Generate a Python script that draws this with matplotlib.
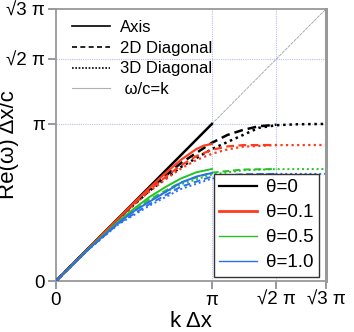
import numpy as np
import matplotlib
matplotlib.use("Agg")
import matplotlib.pyplot as plt
from matplotlib.lines import Line2D

plt.rcParams['font.family'] = ['Liberation Sans', 'DejaVu Sans']

# all values in units of pi (k dx / pi, Re(w) dx / (c pi))
thetas = ['θ=0', 'θ=0.1', 'θ=0.5', 'θ=1.0']
colors = ['black', '#ff3b1e', '#22c422', '#2a6ff0']
widths = [1.8, 1.6, 1.4, 1.4]

# along axis
axis_k = [
    [0, 1.0],
    [0, 0.3, 0.5, 0.6, 0.7, 0.8, 0.9, 0.95, 1.0],
    [0, 0.2, 0.4, 0.5, 0.6, 0.7, 0.8, 0.9, 1.0],
    [0, 0.2, 0.4, 0.5, 0.6, 0.7, 0.8, 0.9, 1.0],
]
axis_w = [
    [0, 1.0],
    [0, 0.3, 0.497, 0.593, 0.685, 0.77, 0.84, 0.862, 0.873],
    [0, 0.198, 0.38, 0.46, 0.535, 0.597, 0.652, 0.692, 0.713],
    [0, 0.195, 0.37, 0.445, 0.505, 0.565, 0.625, 0.665, 0.688],
]

# 2D diagonal
diag2_k = [
    [0, 0.2, 0.4, 0.6, 0.8, 1.0, 1.1, 1.2, 1.3, 1.414],
    [0, 0.3, 0.5, 0.6, 0.7, 0.8, 0.9, 1.0, 1.1, 1.2, 1.414],
    [0, 0.2, 0.4, 0.6, 0.8, 1.0, 1.2, 1.414],
    [0, 0.2, 0.4, 0.6, 0.8, 1.0, 1.2, 1.414],
]
diag2_w = [
    [0, 0.2, 0.397, 0.585, 0.75, 0.88, 0.93, 0.962, 0.985, 0.995],
    [0, 0.298, 0.49, 0.58, 0.66, 0.735, 0.795, 0.835, 0.857, 0.865, 0.866],
    [0, 0.197, 0.375, 0.52, 0.628, 0.69, 0.71, 0.713],
    [0, 0.194, 0.365, 0.49, 0.6, 0.665, 0.68, 0.682],
]

# 3D diagonal
diag3_k = [
    [0, 0.2, 0.4, 0.6, 0.8, 1.0, 1.2, 1.3, 1.414, 1.55, 1.732],
    [0, 0.3, 0.5, 0.6, 0.7, 0.8, 0.9, 1.0, 1.1, 1.2, 1.4, 1.732],
    [0, 0.2, 0.4, 0.6, 0.8, 1.0, 1.2, 1.4, 1.732],
    [0, 0.2, 0.4, 0.6, 0.8, 1.0, 1.2, 1.4, 1.732],
]
diag3_w = [
    [0, 0.2, 0.395, 0.575, 0.725, 0.84, 0.93, 0.975, 0.992, 0.998, 1.0],
    [0, 0.297, 0.485, 0.57, 0.645, 0.715, 0.77, 0.81, 0.838, 0.855, 0.865, 0.866],
    [0, 0.196, 0.372, 0.512, 0.615, 0.678, 0.705, 0.712, 0.713],
    [0, 0.193, 0.36, 0.48, 0.585, 0.652, 0.676, 0.682, 0.682],
]

light_k = [0, 1.732]

tick_vals = [0, 1.0, np.sqrt(2), np.sqrt(3)]
tick_labels = ['0', 'π', '√2 π', '√3 π']

fig = plt.figure(figsize=(3.54, 3.32), dpi=100)
ax = fig.add_axes([0.158, 0.1536, 0.763, 0.8194])

pi = np.pi
ax.plot(np.array(light_k) * pi, np.array(light_k) * pi, color='#a0a0a0',
        lw=0.6, ls=(0, (4, 1)), zorder=1)

for i in range(4):
    ax.plot(np.array(diag3_k[i]) * pi, np.array(diag3_w[i]) * pi, color=colors[i],
            lw=widths[i], ls=(0, (1, 1.5)), zorder=2)
    ax.plot(np.array(diag2_k[i]) * pi, np.array(diag2_w[i]) * pi, color=colors[i],
            lw=widths[i], ls=(0, (3.5, 2)), zorder=3)
    ax.plot(np.array(axis_k[i]) * pi, np.array(axis_w[i]) * pi, color=colors[i],
            lw=widths[i], zorder=4)

ax.set_xlim(0, np.sqrt(3) * pi)
ax.set_ylim(0, np.sqrt(3) * pi)
ax.set_xticks(np.array(tick_vals) * pi)
ax.set_xticklabels(tick_labels)
ax.set_yticks(np.array(tick_vals) * pi)
ax.set_yticklabels(tick_labels)
ax.tick_params(labelsize=13.5, color='#888888', length=6, width=1.2,
               direction='out', pad=2)

for v in [1.0, np.sqrt(2)]:
    ax.axvline(v * pi, color='#b8c0f0', lw=0.8, ls=(0, (1, 1)), zorder=0)
    ax.axhline(v * pi, color='#b8c0f0', lw=0.8, ls=(0, (1, 1)), zorder=0)

for s in ax.spines.values():
    s.set_color('#999999')
    s.set_linewidth(1.3)
ax.spines['right'].set_linewidth(2.2)

ax.set_xlabel('k Δx', fontsize=16, labelpad=1)
ax.set_ylabel('Re(ω) Δx/c', fontsize=16)
ax.yaxis.set_label_coords(-0.135, 0.5)

style_handles = [
    Line2D([], [], color='black', lw=1.2),
    Line2D([], [], color='black', lw=1.2, ls=(0, (3, 2))),
    Line2D([], [], color='black', lw=1.2, ls=(0, (1, 1))),
    Line2D([], [], color='#b0b0b0', lw=0.8),
]
leg1 = ax.legend(style_handles, ['Axis', '2D Diagonal', '3D Diagonal', ' ω/c=k'],
                 loc='upper left', frameon=False, fontsize=12, handlelength=2.3,
                 handletextpad=0.6, labelspacing=0.35, borderaxespad=0,
                 bbox_to_anchor=(0.035, 0.985))
ax.add_artist(leg1)

theta_handles = [Line2D([], [], color=colors[i], lw=[1.6, 2.0, 1.0, 1.0][i]) for i in range(4)]
leg2 = ax.legend(theta_handles, thetas, loc='lower right', fontsize=13.5,
                 handlelength=2.0, handletextpad=0.5, labelspacing=0.42,
                 fancybox=False, framealpha=1, edgecolor='#333333',
                 bbox_to_anchor=(0.975, 0.015), borderaxespad=0, borderpad=0.3)
leg2.get_frame().set_linewidth(1.0)

fig.savefig('out.png', dpi=100)
